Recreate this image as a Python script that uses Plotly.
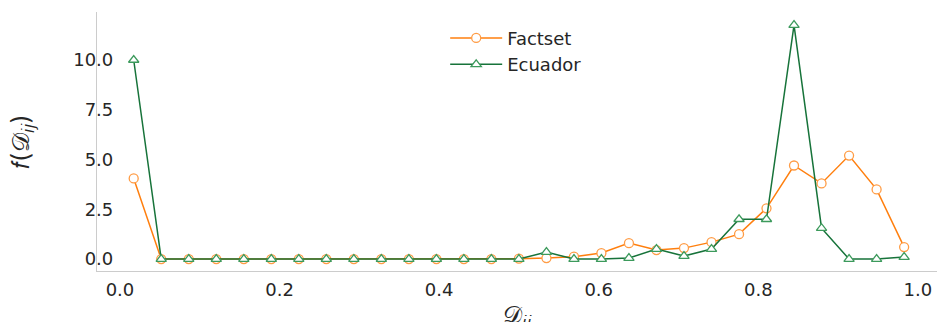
import plotly.graph_objects as go

# Bin centres of D_ij (29 equal-width bins on [0, 1])
d_bins = [0.0172, 0.0517, 0.0862, 0.1207, 0.1552, 0.1897, 0.2241, 0.2586,
          0.2931, 0.3276, 0.3621, 0.3966, 0.4310, 0.4655, 0.5000, 0.5345,
          0.5690, 0.6034, 0.6379, 0.6724, 0.7069, 0.7414, 0.7759, 0.8103,
          0.8448, 0.8793, 0.9138, 0.9483, 0.9828]

factset = [4.05, 0.0, 0.0, 0.0, 0.0, 0.0, 0.0, 0.0, 0.0, 0.0, 0.0, 0.0,
           0.0, 0.0, 0.02, 0.05, 0.12, 0.3, 0.8, 0.45, 0.55, 0.85, 1.25,
           2.55, 4.7, 3.8, 5.2, 3.5, 0.6]

ecuador = [10.0, 0.0, 0.0, 0.0, 0.0, 0.0, 0.0, 0.0, 0.0, 0.0, 0.0, 0.0,
           0.0, 0.0, 0.0, 0.35, 0.0, 0.0, 0.05, 0.5, 0.15, 0.5, 2.0,
           2.0, 11.75, 1.55, 0.0, 0.0, 0.1]

x_ticks = [0.0, 0.2, 0.4, 0.6, 0.8, 1.0]
y_ticks = [0.0, 2.5, 5.0, 7.5, 10.0]

ORANGE = "#ff7f0e"
ORANGE_EDGE = "#ff9c45"
GREEN = "#17733a"
GREEN_EDGE = "#3c9a5c"
TEXT = "#262626"
SPINE = "#cccccc"
FONT = "DejaVu Sans"

fig = go.Figure()
fig.add_trace(go.Scatter(
    x=d_bins, y=factset, name="Factset", mode="lines+markers",
    line=dict(color=ORANGE, width=1.5),
    marker=dict(symbol="circle", size=9, color="white",
                line=dict(color=ORANGE_EDGE, width=1.3)),
))
fig.add_trace(go.Scatter(
    x=d_bins, y=ecuador, name="Ecuador", mode="lines+markers",
    line=dict(color=GREEN, width=1.5),
    marker=dict(symbol="triangle-up", size=9, color="white",
                line=dict(color=GREEN_EDGE, width=1.3)),
))

fig.update_layout(
    width=939, height=322,
    margin=dict(l=97, r=2, t=12, b=51),
    paper_bgcolor="white", plot_bgcolor="white",
    font=dict(family=FONT, size=18, color=TEXT),
    showlegend=True,
    legend=dict(
        x=0.4145, y=0.97, xanchor="left", yanchor="top",
        bgcolor="rgba(0,0,0,0)", borderwidth=0,
        font=dict(family=FONT, size=18, color=TEXT),
        tracegroupgap=0, itemwidth=52,
    ),
)

fig.update_xaxes(
    range=[-0.0288, 1.024], automargin=False,
    tickvals=x_ticks, ticktext=[f"{v:.1f}" for v in x_ticks],
    ticks="", ticklabelstandoff=2,
    showgrid=False, zeroline=False,
    showline=True, linecolor=SPINE, linewidth=1.2, mirror=False,
    tickfont=dict(family=FONT, size=18, color=TEXT),
)
fig.update_yaxes(
    range=[-0.6, 12.41], automargin=False,
    tickvals=y_ticks, ticktext=[f"{v:.1f}" for v in y_ticks],
    ticks="", ticklabelstandoff=-21,
    showgrid=False, zeroline=False,
    showline=True, linecolor=SPINE, linewidth=1.2, mirror=False,
    tickfont=dict(family=FONT, size=18, color=TEXT),
)

# Axis titles
fig.add_annotation(
    text="𝒟<sub>𝑖𝑗</sub>", xref="paper", yref="paper",
    x=0.5, y=0, xanchor="center", yanchor="top", yshift=-28,
    showarrow=False, font=dict(family=FONT, size=24, color=TEXT),
)
fig.add_annotation(
    text="𝑓(𝒟<sub>𝑖𝑗</sub>)", xref="paper", yref="paper",
    x=0, y=0.5, xanchor="center", yanchor="middle", xshift=-75,
    textangle=-90, showarrow=False,
    font=dict(family=FONT, size=24, color=TEXT),
)

fig.write_html("out.html")
